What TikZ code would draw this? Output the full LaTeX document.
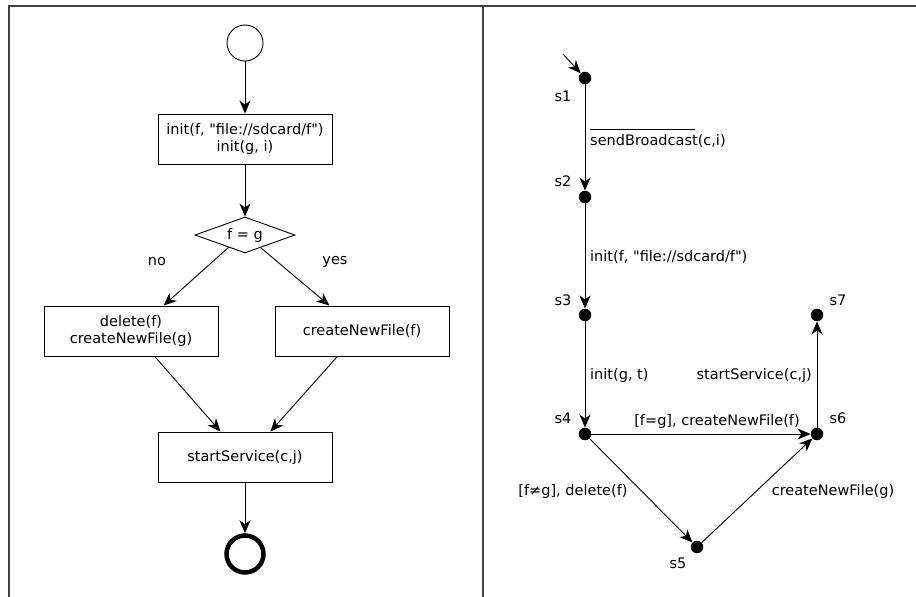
\documentclass[tikz,border=0pt]{standalone}
\usepackage{fontspec}
\setmainfont{DejaVu Sans}[Ligatures=TeXOff]
\usetikzlibrary{arrows.meta,shapes.geometric}
\begin{document}
\begin{tikzpicture}[x=1pt,y=-1pt,
  every node/.style={font=\fontsize{14.5}{17.5}\selectfont},
  arr/.style={draw, line width=0.9pt, -{Stealth[length=13pt,width=11pt,inset=4pt]}},
  actbox/.style={draw, line width=0.9pt, rectangle, minimum width=174pt, minimum height=50pt, align=center, inner sep=0pt},
  st/.style={circle, fill=black, minimum size=12.5pt, inner sep=0pt},
  slabel/.style={inner sep=0pt},
  frameline/.style={draw=black!75, line width=1.3pt}
]
\useasboundingbox (0,0) rectangle (916,597);
% frame
\draw[frameline] (916,6) -- (9,6) -- (9,597);
\draw[frameline] (483,6) -- (483,597);

% ---------- left panel ----------
\node[draw, line width=0.9pt, circle, minimum size=36pt, inner sep=0pt] (start) at (245,43) {};
\node[actbox] (b1) at (245,139) {init(f, "file://sdcard/f")\\init(g, i)};
\node[draw, line width=0.9pt, diamond, aspect=2.8, minimum width=100pt, minimum height=36pt, inner sep=0pt] (dia) at (245,235) {f = g};
\node[slabel] (no) at (157,262) {no};
\node[slabel] (yes) at (335,262) {yes};
\node[actbox] (b2) at (131,331) {delete(f)\\createNewFile(g)};
\node[actbox] (b3) at (362,331) {createNewFile(f)};
\node[actbox] (b4) at (245,457) {startService(c,j)};
\node[draw, line width=4.5pt, circle, minimum size=37pt, inner sep=0pt] (end) at (245,554) {};

\draw[arr] (start) -- (b1);
\draw[arr] (b1) -- (dia);
\draw[arr] (dia.-143) -- (b2.38);
\draw[arr] (dia.-39) -- (b3.142);
\draw[arr] (b2.-47) -- (b4.134);
\draw[arr] (b3.-134) -- (b4.45);
\draw[arr] (b4) -- (end.north);

% ---------- right panel ----------
\node[st] (s1) at (585,78) {};
\node[st] (s2) at (585,197) {};
\node[st] (s3) at (585,315) {};
\node[st] (s4) at (585,434) {};
\node[st] (s5) at (697,547) {};
\node[st] (s6) at (817,434) {};
\node[st] (s7) at (817,315) {};
\coordinate (init) at (563,54);

\node[slabel] (l1) at (563,96) {s1};
\node[slabel] (l2) at (563,181) {s2};
\node[slabel] (l3) at (563,300) {s3};
\node[slabel] (l4) at (563,418) {s4};
\node[slabel] (l5) at (678,563) {s5};
\node[slabel] (l6) at (838,418) {s6};
\node[slabel] (l7) at (838,300) {s7};

\draw[arr] (init) -- (s1);
\draw[arr] (s1) -- (s2);
\draw[arr] (s2) -- (s3);
\draw[arr] (s3) -- (s4);
\draw[arr] (s4) -- (s6);
\draw[arr] (s4) -- (s5);
\draw[arr] (s5) -- (s6);
\draw[arr] (s6) -- (s7);

\node[slabel, anchor=west] (e12) at (590,138) {\rlap{\rule[15.5pt]{105pt}{0.9pt}}sendBroadcast(c,i)};
\node[slabel, anchor=west] (e23) at (590,257) {init(f, "file://sdcard/f")};
\node[slabel, anchor=west] (e34) at (590,375) {init(g, t)};
\node[slabel, anchor=east] (e67) at (812,375) {startService(c,j)};
\node[slabel] (e46) at (717,421) {[f=g], createNewFile(f)};
\node[slabel] (e45) at (573,491) {[f≠g], delete(f)};
\node[slabel] (e56) at (833,491) {createNewFile(g)};
\end{tikzpicture}
\end{document}
